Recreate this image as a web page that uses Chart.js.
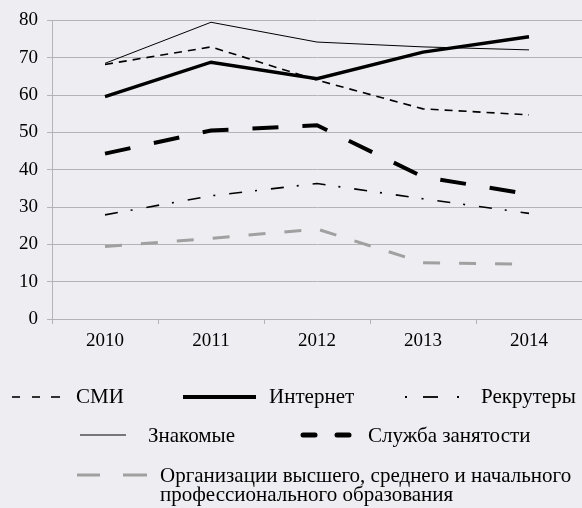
<!DOCTYPE html>
<html>
<head>
<meta charset="utf-8">
<script src="https://cdn.jsdelivr.net/npm/chart.js@4.4.1/dist/chart.umd.min.js"></script>
<style>
    body { margin: 0; background: #eeedf2; font-family: "Liberation Serif", serif; }
    #wrap { position: relative; width: 582px; height: 508px; overflow: hidden; }
    #chartBox { position: absolute; left: 0; top: 0; width: 582px; height: 360px; }
    #swatches { position: absolute; left: 0; top: 0; }
    .lg { position: absolute; font-size: 21px; line-height: 24px; color: #000; white-space: nowrap; }
</style>
</head>
<body>
<div id="wrap">
    <div id="chartBox"><canvas id="lineChart"></canvas></div>
    <svg id="swatches" width="582" height="508"></svg>
    <div id="legend"></div>
</div>
<script>
// Data
const years = ['2010', '2011', '2012', '2013', '2014'];
const smi = [68.2, 72.9, 64.0, 56.3, 54.7];
const internet = [59.6, 68.8, 64.4, 71.5, 75.6];
const recruiters = [27.9, 33.0, 36.3, 32.2, 28.3];
const acquaintances = [68.5, 79.5, 74.2, 72.9, 72.1];
const employment = [44.3, 50.5, 51.9, 38.1, 33.4];
const education = [19.4, 21.6, 24.1, 15.1, 14.7];
const yMin = 0, yMax = 80, yStep = 10;

const gridColor = '#b4b4b8';
const fontFamily = '"Liberation Serif", serif';

// series styles, also reused for the legend swatches
const series = [
    { label: 'СМИ', data: smi, color: '#000', width: 1.6, dash: [8, 6] },
    { label: 'Интернет', data: internet, color: '#000', width: 3.5, dash: [] },
    { label: 'Рекрутеры', data: recruiters, color: '#000', width: 1.6, dash: [13, 13, 2, 14] },
    { label: 'Знакомые', data: acquaintances, color: '#000', width: 1, dash: [] },
    { label: 'Служба занятости', data: employment, color: '#000', width: 4, dash: [26, 24] },
    { label: 'Организации высшего, среднего и начального профессионального образования', data: education, color: '#a0a0a0', width: 3, dash: [17, 19] }
];

function renderChart() {
    const ctx = document.getElementById('lineChart').getContext('2d');
    new Chart(ctx, {
        type: 'line',
        data: {
            labels: years,
            datasets: series.map(s => ({
                label: s.label,
                data: s.data,
                borderColor: s.color,
                borderWidth: s.width,
                borderDash: s.dash,
                pointRadius: 0,
                tension: 0,
                fill: false
            }))
        },
        options: {
            responsive: true,
            maintainAspectRatio: false,
            animation: false,
            layout: { padding: { top: 19, right: 0, left: 0, bottom: 0 } },
            plugins: { legend: { display: false }, tooltip: { enabled: false } },
            scales: {
                x: {
                    offset: true,
                    grid: { offset: true, drawOnChartArea: false, drawTicks: true, tickLength: 5, color: gridColor },
                    border: { color: gridColor },
                    ticks: { color: '#000', padding: 6, font: { family: fontFamily, size: 19 } },
                    afterFit: scale => { scale.height = 41; }
                },
                y: {
                    min: yMin,
                    max: yMax,
                    grid: { color: gridColor, tickLength: 5 },
                    border: { color: gridColor },
                    ticks: { stepSize: yStep, color: '#000', padding: 9, font: { family: fontFamily, size: 19 } },
                    afterFit: scale => { scale.width = 52; }
                }
            }
        }
    });
}

// Legend layout: swatch pieces [x1, x2], text left, row centre / text top
const legendItems = [
    { pieces: [[12, 20], [32, 40], [51, 60]], w: 1.6, cy: 397, tx: 76, ty: 384 },
    { pieces: [[183, 256]], w: 4, cy: 397, tx: 269, ty: 384 },
    { pieces: [[405, 407], [423, 438], [457, 459]], w: 1.8, cy: 397, tx: 481, ty: 384 },
    { pieces: [[80, 126]], w: 1, cy: 435, tx: 148, ty: 423 },
    { pieces: [[303, 315], [337, 349]], w: 5, cap: 'round', cy: 435, tx: 368, ty: 423 },
    { pieces: [[77, 100], [123, 147]], w: 3, cy: 475, tx: 160, ty: 466 }
];

function buildLegend() {
    const svg = document.getElementById('swatches');
    const box = document.getElementById('legend');
    series.forEach((s, i) => {
        const item = legendItems[i];
        item.pieces.forEach(([x1, x2]) => {
            svg.insertAdjacentHTML('beforeend',
                `<line x1="${x1}" y1="${item.cy}" x2="${x2}" y2="${item.cy}" stroke="${s.color}" stroke-width="${item.w}" stroke-linecap="${item.cap || 'butt'}"/>`);
        });
        const txt = document.createElement('div');
        txt.className = 'lg';
        txt.style.left = item.tx + 'px';
        txt.style.top = item.ty + 'px';
        if (i === 5) {
            txt.style.lineHeight = '19px';
            txt.innerHTML = 'Организации высшего, среднего и начального<br>профессионального образования';
        } else {
            txt.innerText = s.label;
        }
        box.appendChild(txt);
    });
}

window.onload = function() {
    renderChart();
    buildLegend();
};
</script>
</body>
</html>
